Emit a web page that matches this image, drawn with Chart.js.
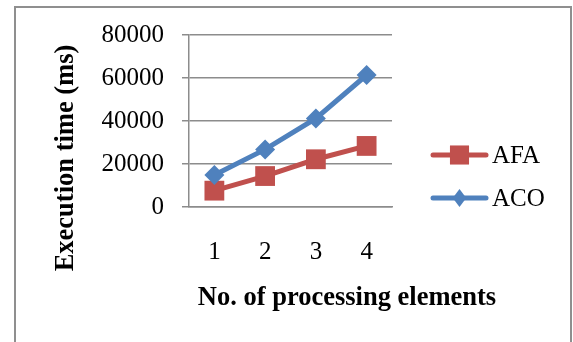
<!DOCTYPE html>
<html>
<head>
<meta charset="utf-8">
<script src="https://cdn.jsdelivr.net/npm/chart.js@4"></script>
<style>
  html, body { margin: 0; padding: 0; background: #fff; }
  #wrap { width: 573px; height: 342px; }
</style>
</head>
<body>
<div id="wrap"><canvas id="chart" width="573" height="342"></canvas></div>
<script>
// Execution time by number of processing elements
const categories = ['1', '2', '3', '4'];
const afaTimes = [7600, 14400, 22200, 28400];
const acoTimes = [14900, 26800, 41200, 61400];
const yTicks = [0, 20000, 40000, 60000, 80000];

const RED = '#C0504D';
const BLUE = '#4F81BD';
const GRID = '#8c8c8c';
const SERIF = '"Liberation Serif", "Times New Roman", serif';

function drawMarker(ctx, style, x, y, r) {
  ctx.beginPath();
  if (style === 'rect') {
    const s = r * Math.SQRT1_2;
    ctx.rect(x - s, y - s, 2 * s, 2 * s);
  } else {
    ctx.moveTo(x, y - r);
    ctx.lineTo(x + r * 0.75, y);
    ctx.lineTo(x, y + r);
    ctx.lineTo(x - r * 0.75, y);
    ctx.closePath();
  }
  ctx.fill();
}

// Frame, axis titles and the line-with-marker legend
const decorations = {
  id: 'decorations',
  afterDraw(chart) {
    const ctx = chart.ctx;
    const area = chart.chartArea;
    ctx.save();

    ctx.strokeStyle = '#8f8f8f';
    ctx.lineWidth = 2;
    ctx.strokeRect(15, 7, 556, 360);

    ctx.fillStyle = '#000';
    ctx.font = 'bold 26.5px ' + SERIF;
    ctx.textAlign = 'center';
    ctx.textBaseline = 'middle';
    ctx.fillText('No. of processing elements', area.left + 158, 298);

    ctx.save();
    ctx.translate(66, 158);
    ctx.rotate(-Math.PI / 2);
    ctx.fillText('Execution time (ms)', 0, 0);
    ctx.restore();

    const items = [
      { label: 'AFA', color: RED, style: 'rect', r: 13.5, y: 155 },
      { label: 'ACO', color: BLUE, style: 'diamond', r: 9, y: 198 }
    ];
    items.forEach(it => {
      ctx.strokeStyle = it.color;
      ctx.fillStyle = it.color;
      ctx.lineWidth = 5;
      ctx.lineCap = 'round';
      ctx.beginPath();
      ctx.moveTo(433, it.y);
      ctx.lineTo(486, it.y);
      ctx.stroke();
      drawMarker(ctx, it.style, 459.5, it.y, it.r);
      ctx.fillStyle = '#000';
      ctx.font = '25px ' + SERIF;
      ctx.textAlign = 'left';
      ctx.fillText(it.label, 492, it.y + 1);
    });
    ctx.restore();
  }
};

new Chart(document.getElementById('chart'), {
  type: 'line',
  data: {
    labels: categories,
    datasets: [
      {
        label: 'AFA',
        data: afaTimes,
        borderColor: RED,
        backgroundColor: RED,
        borderWidth: 5,
        pointStyle: 'rect',
        pointRadius: 14,
        pointHoverRadius: 14,
        pointBorderWidth: 0,
        order: 1,
        tension: 0
      },
      {
        label: 'ACO',
        data: acoTimes,
        borderColor: BLUE,
        backgroundColor: BLUE,
        borderWidth: 5,
        pointStyle: 'rectRot',
        pointRadius: 10,
        pointHoverRadius: 10,
        pointBorderWidth: 0,
        order: 0,
        tension: 0
      }
    ]
  },
  options: {
    responsive: false,
    animation: false,
    devicePixelRatio: 1,
    layout: { padding: { top: 35, right: 181, bottom: 0, left: 0 } },
    plugins: { legend: { display: false }, tooltip: { enabled: false } },
    scales: {
      x: {
        offset: true,
        grid: { display: false, drawTicks: false },
        border: { display: true, color: GRID, width: 1.5 },
        ticks: { color: '#000', font: { family: SERIF, size: 25 }, padding: 30 },
        afterFit(scale) { scale.height = 135; }
      },
      y: {
        min: 0,
        max: 80000,
        afterBuildTicks(scale) { scale.ticks = yTicks.map(v => ({ value: v })); },
        grid: { color: GRID, lineWidth: 1.5, tickLength: 7 },
        border: { display: true, color: GRID, width: 1.5 },
        ticks: {
          color: '#000',
          font: { family: SERIF, size: 25 },
          padding: 18,
          callback: v => String(v)
        },
        afterFit(scale) { scale.width = 189; }
      }
    }
  },
  plugins: [decorations]
});
</script>
</body>
</html>
